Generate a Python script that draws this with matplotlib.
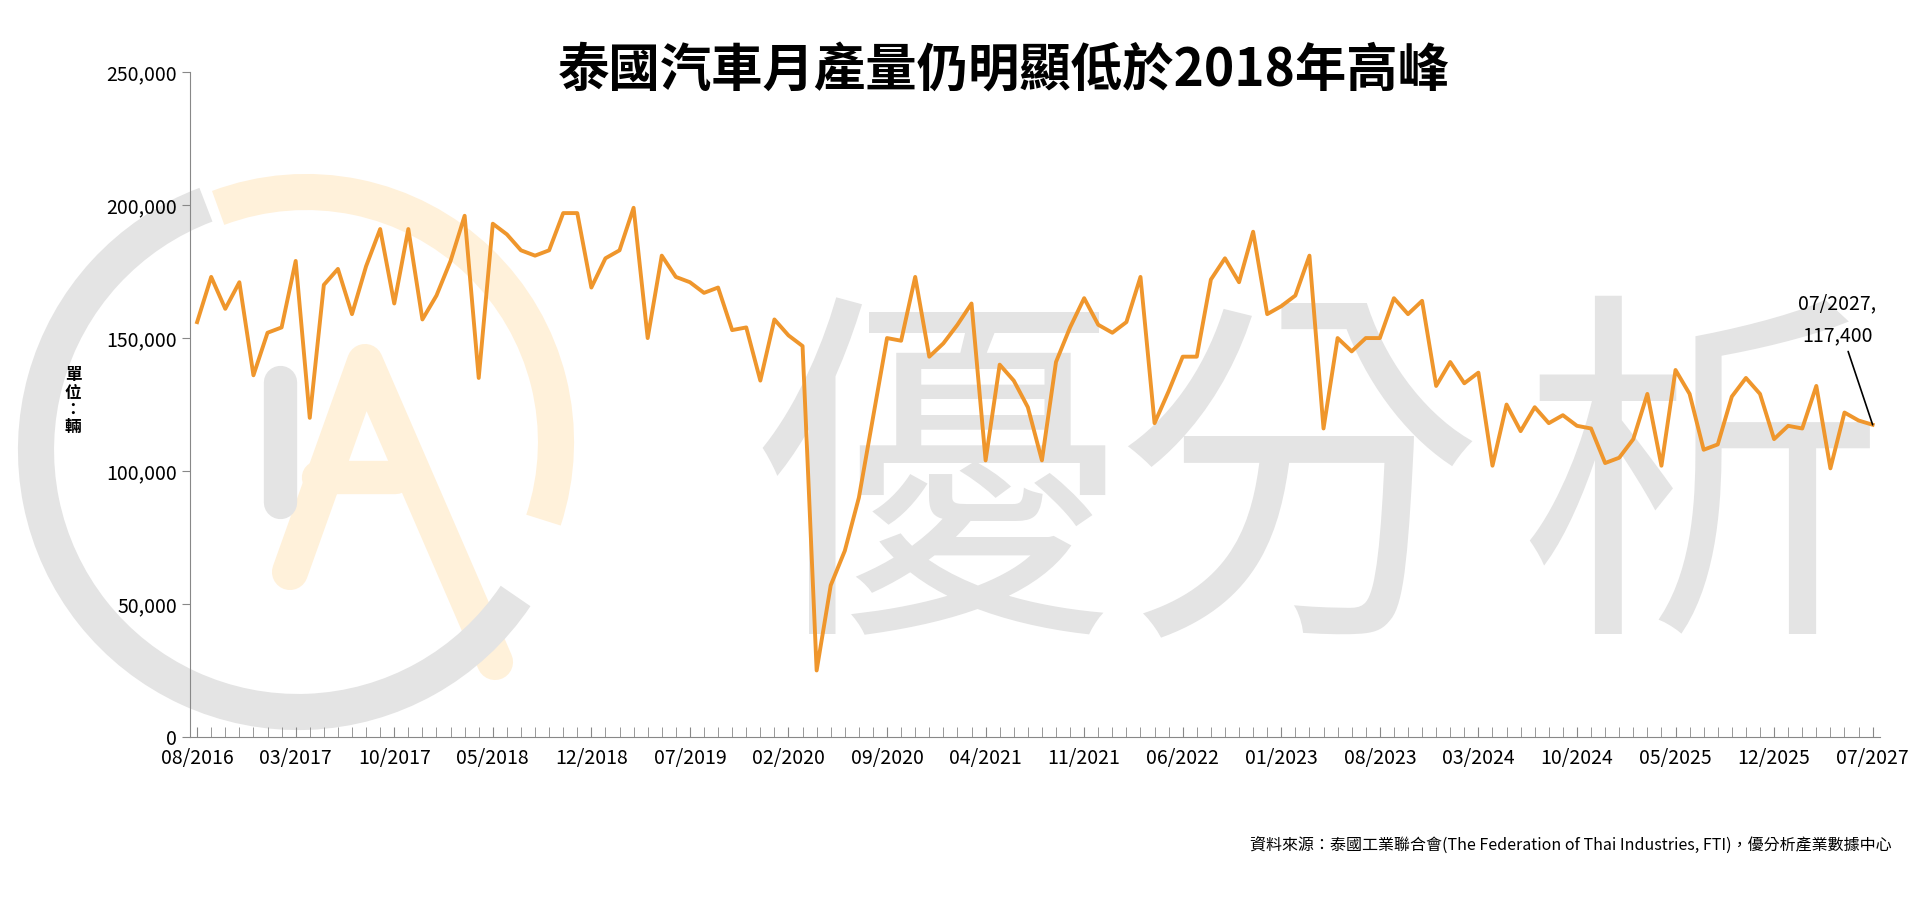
import matplotlib
matplotlib.use("Agg")
import matplotlib.pyplot as plt
from matplotlib.patches import Arc
import numpy as np

plt.rcParams["font.family"] = ["Noto Sans CJK TC", "DejaVu Sans"]

# monthly production (vehicles)
production = [
    156, 173, 161, 171, 136, 152, 154, 179, 120, 170,
    176, 159, 177, 191, 163, 191, 157, 166, 179, 196,
    135, 193, 189, 183, 181, 183, 197, 197, 169, 180,
    183, 199, 150, 181, 173, 171, 167, 169, 153, 154,
    134, 157, 151, 147, 25, 57, 70, 90, 120, 150,
    149, 173, 143, 148, 155, 163, 104, 140, 134, 124,
    104, 141, 154, 165, 155, 152, 156, 173, 118, 130,
    143, 143, 172, 180, 171, 190, 159, 162, 166, 181,
    116, 150, 145, 150, 150, 165, 159, 164, 132, 141,
    133, 137, 102, 125, 115, 124, 118, 121, 117, 116,
    103, 105, 112, 129, 102, 138, 129, 108, 110, 128,
    135, 129, 112, 117, 116, 132, 101, 122, 119, 117.4,
]
production = [v * 1000 for v in production]
tick_labels = ["08/2016", "03/2017", "10/2017", "05/2018", "12/2018", "07/2019",
               "02/2020", "09/2020", "04/2021", "11/2021", "06/2022", "01/2023",
               "08/2023", "03/2024", "10/2024", "05/2025", "12/2025", "07/2027"]
yticks = [0, 50000, 100000, 150000, 200000, 250000]

C_LINE = "#EF962C"
C_WM = "#e4e4e4"
C_WM_O = "#fff1da"

fig = plt.figure(figsize=(19.2, 9.02), dpi=100)
ax = fig.add_axes([0.099, 0.183, 0.880, 0.737])
ax.set_zorder(2)
ax.set_facecolor("none")

# ---- watermark (drawn on the figure, behind the axes) ----------------------
for ch, xc in zip("優分析", [0.487, 0.676, 0.886]):
    fig.text(xc, 0.445, ch, fontsize=265, color=C_WM, ha="center", va="center",
             fontweight="light", zorder=0)
cx, cy, r = 298, 452, 262  # logo circle in pixels
W, H = 1920, 902
fig.patches.append(Arc((cx / W, cy / H), 2 * r / W, 2 * r / H, theta1=100, theta2=305,
                       transform=fig.transFigure, color=C_WM, lw=26, zorder=0))
fig.patches.append(Arc(((cx + 8) / W, (cy + 8) / H), 2 * (r - 12) / W, 2 * (r - 12) / H,
                       theta1=-35, theta2=100,
                       transform=fig.transFigure, color=C_WM_O, lw=26, zorder=0))
fig.lines.append(plt.Line2D([290 / W, 365 / W, 495 / W], [330 / H, 540 / H, 240 / H],
                            transform=fig.transFigure, color=C_WM_O, lw=26,
                            solid_capstyle="round", solid_joinstyle="round", zorder=0))
fig.lines.append(plt.Line2D([318 / W, 395 / W], [425 / H, 425 / H],
                            transform=fig.transFigure, color=C_WM_O, lw=24,
                            solid_capstyle="round", zorder=0))
fig.lines.append(plt.Line2D([280 / W, 280 / W], [520 / H, 400 / H],
                            transform=fig.transFigure, color=C_WM, lw=24,
                            solid_capstyle="round", zorder=0))

# ---- data ------------------------------------------------------------------
x = np.arange(len(production))
ax.plot(x, production, color=C_LINE, lw=2.8, zorder=3)

ax.set_xlim(-0.5, len(production) - 0.5)
ax.set_ylim(0, 250000)
ax.set_yticks(yticks)
ax.set_yticklabels([f"{v:,}" for v in yticks], fontsize=14)
ax.set_xticks(np.arange(0, len(production), 7))
ax.set_xticklabels(tick_labels, fontsize=14)
ax.set_xticks(np.arange(0, len(production)), minor=True)
ax.tick_params(axis="x", which="both", direction="in", length=7, color="#888888")
ax.tick_params(axis="x", which="major", pad=8)
ax.tick_params(axis="y", length=6, color="#888888")
for s in ("top", "right"):
    ax.spines[s].set_visible(False)
for s in ("left", "bottom"):
    ax.spines[s].set_color("#888888")

ax.annotate("07/2027,\n117,400", xy=(x[-1], production[-1]),
            xytext=(x[-1] - 2.5, 147000), ha="center", va="bottom",
            fontsize=14, linespacing=1.7,
            arrowprops=dict(arrowstyle="-", color="black", lw=1.2, shrinkA=2, shrinkB=0))

fig.text(0.523, 0.922, "泰國汽車月產量仍明顯低於2018年高峰", fontsize=37,
         fontweight="bold", ha="center", va="center")
fig.text(0.038, 0.555, "單\n位\n：\n輛", fontsize=12, fontweight="bold",
         ha="center", va="center", linespacing=0.95)
fig.text(0.985, 0.063,
         "資料來源：泰國工業聯合會(The Federation of Thai Industries, FTI)，優分析產業數據中心",
         fontsize=11.5, ha="right", va="center")

fig.savefig("out.png", dpi=100)
